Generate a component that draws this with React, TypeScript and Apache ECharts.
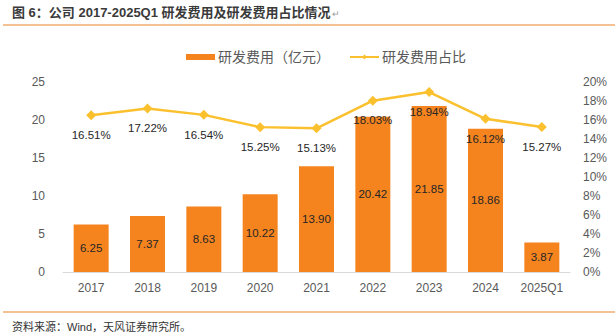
import React, { useEffect, useRef } from "react";
import * as echarts from "echarts";

const categories = ["2017", "2018", "2019", "2020", "2021", "2022", "2023", "2024", "2025Q1"];
const rdExpense = [6.25, 7.37, 8.63, 10.22, 13.9, 20.42, 21.85, 18.86, 3.87];
const rdRatio = [16.51, 17.22, 16.54, 15.25, 15.13, 18.03, 18.94, 16.12, 15.27];
const leftTicks = { min: 0, max: 25, interval: 5 };
const rightTicks = { min: 0, max: 20, interval: 2 };

const FONT = "Arial, 'Liberation Sans', 'Noto Sans CJK SC', sans-serif";

export default function App() {
  const ref = useRef<HTMLDivElement>(null);
  useEffect(() => {
    document.body.style.margin = "0";
    const chart = echarts.init(ref.current!, null, { renderer: "svg" });
    chart.setOption({
      animation: false,
      backgroundColor: "#ffffff",
      textStyle: { fontFamily: FONT },
      graphic: [
        {
          type: "text",
          left: 12,
          top: 6,
          style: {
            text: "图 6：公司 2017-2025Q1 研发费用及研发费用占比情况{r|↵}",
            font: `bold 13px ${FONT}`,
            fill: "#3a3a3a",
            rich: { r: { fontSize: 9, fontWeight: "normal", fill: "#9a9a9a", padding: [3, 0, 0, 1] } },
          },
        },
        {
          type: "line",
          shape: { x1: 3, y1: 25, x2: 615, y2: 25 },
          style: { stroke: "#E8832A", lineWidth: 1.2 },
        },
        {
          type: "line",
          shape: { x1: 3, y1: 312, x2: 615, y2: 312 },
          style: { stroke: "#E8832A", lineWidth: 1.2 },
        },
        {
          type: "text",
          left: 12,
          top: 321,
          style: {
            text: "资料来源：Wind，天风证券研究所。",
            font: `11px ${FONT}`,
            fill: "#333333",
          },
        },
      ],
      legend: {
        top: 45,
        left: 181,
        itemGap: 19,
        textStyle: { fontSize: 14, color: "#595959", fontFamily: FONT, padding: [0, 0, 0, -2] },
        data: [
          { name: "研发费用（亿元）", icon: "rect", itemStyle: { color: "#F5841F" } },
          { name: "研发费用占比" },
        ],
        itemWidth: 29,
        itemHeight: 6,
      },
      grid: { left: 63, right: 45, top: 82, bottom: 63 },
      xAxis: {
        type: "category",
        data: categories,
        axisTick: { show: false },
        axisLine: { lineStyle: { color: "#D9D9D9", width: 1 } },
        axisLabel: { color: "#595959", fontSize: 12, margin: 10 },
      },
      yAxis: [
        {
          type: "value",
          ...leftTicks,
          splitLine: { show: false },
          axisLine: { show: false },
          axisTick: { show: false },
          axisLabel: { color: "#595959", fontSize: 12, margin: 18 },
        },
        {
          type: "value",
          ...rightTicks,
          splitLine: { show: false },
          axisLine: { show: false },
          axisTick: { show: false },
          axisLabel: {
            color: "#595959",
            fontSize: 12,
            margin: 13,
            formatter: (v: number) => `${v}%`,
          },
        },
      ],
      series: [
        {
          name: "研发费用（亿元）",
          type: "bar",
          data: rdExpense,
          barWidth: 35,
          itemStyle: { color: "#F5841F" },
          label: {
            show: true,
            position: "inside",
            color: "#262626",
            fontSize: 11.5,
            formatter: (p: any) => p.value.toFixed(2),
          },
        },
        {
          name: "研发费用占比",
          type: "line",
          yAxisIndex: 1,
          data: rdRatio,
          symbol: "diamond",
          symbolSize: 10,
          lineStyle: { color: "#FBC02D", width: 2.5 },
          itemStyle: { color: "#FBC02D" },
          label: {
            show: true,
            position: "bottom",
            distance: 9,
            color: "#262626",
            fontSize: 11.5,
            formatter: (p: any) => `${p.value.toFixed(2)}%`,
          },
        },
      ],
    });
    return () => chart.dispose();
  }, []);
  return <div ref={ref} style={{ width: 615, height: 335 }} />;
}
